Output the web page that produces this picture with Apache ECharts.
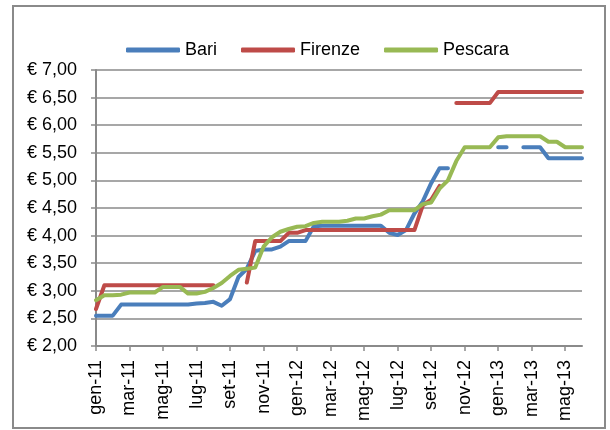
<!DOCTYPE html>
<html>
<head>
<meta charset="utf-8">
<script src="https://cdn.jsdelivr.net/npm/echarts@6/dist/echarts.min.js"></script>
<style>
  html, body { margin: 0; padding: 0; background: #fff; }
  #chart { width: 610px; height: 430px; }
</style>
</head>
<body>
<div id="chart"></div>
<script>
// mesi (un punto ogni mezzo mese, da gen-11 a inizio giu-13)
const months = [
  'gen-11', 'feb-11', 'mar-11', 'apr-11', 'mag-11', 'giu-11',
  'lug-11', 'ago-11', 'set-11', 'ott-11', 'nov-11', 'dic-11',
  'gen-12', 'feb-12', 'mar-12', 'apr-12', 'mag-12', 'giu-12',
  'lug-12', 'ago-12', 'set-12', 'ott-12', 'nov-12', 'dic-12',
  'gen-13', 'feb-13', 'mar-13', 'apr-13', 'mag-13', 'giu-13'
]
const categories = months.flatMap((m) => [m, m]).slice(0, 59)

const bari = [
  2.55, 2.55, 2.55, 2.75, 2.75, 2.75, 2.75, 2.75, 2.75, 2.75,
  2.75, 2.75, 2.77, 2.78, 2.80, 2.73, 2.85, 3.25, 3.40, 3.72,
  3.75, 3.75, 3.80, 3.90, 3.90, 3.90, 4.17, 4.18, 4.18, 4.18,
  4.18, 4.18, 4.18, 4.18, 4.18, 4.05, 4.01, 4.10, 4.40, 4.62,
  4.95, 5.22, 5.22, null, null, null, null, null, 5.60, 5.60,
  null, 5.60, 5.60, 5.60, 5.40, 5.40, 5.40, 5.40, 5.40
]
const firenze = [
  2.67, 3.10, 3.10, 3.10, 3.10, 3.10, 3.10, 3.10, 3.10, 3.10,
  3.10, 3.10, 3.10, 3.10, 3.10, null, null, null, 3.15, 3.90,
  3.90, 3.90, 3.90, 4.05, 4.05, 4.10, 4.10, 4.10, 4.10, 4.10,
  4.10, 4.10, 4.10, 4.10, 4.10, 4.10, 4.10, 4.10, 4.10, 4.55,
  4.65, 4.90, null, 6.40, 6.40, 6.40, 6.40, 6.40, 6.60, 6.60,
  6.60, 6.60, 6.60, 6.60, 6.60, 6.60, 6.60, 6.60, 6.60
]
const pescara = [
  2.83, 2.92, 2.92, 2.93, 2.97, 2.97, 2.97, 2.97, 3.07, 3.07,
  3.07, 2.95, 2.95, 2.98, 3.05, 3.14, 3.27, 3.38, 3.40, 3.42,
  3.80, 3.97, 4.07, 4.12, 4.16, 4.17, 4.23, 4.25, 4.25, 4.25,
  4.27, 4.31, 4.31, 4.35, 4.38, 4.46, 4.46, 4.46, 4.46, 4.57,
  4.60, 4.85, 5.00, 5.35, 5.60, 5.60, 5.60, 5.60, 5.78, 5.80,
  5.80, 5.80, 5.80, 5.80, 5.70, 5.70, 5.60, 5.60, 5.60
]

const chart = echarts.init(document.getElementById('chart'))
const font = '"Liberation Sans", Arial, sans-serif'
const gray = '#8a8a8a'

const makeLine = (name, data, color) => ({
  name,
  type: 'line',
  data,
  showSymbol: false,
  connectNulls: false,
  lineStyle: { color, width: 4, cap: 'round', join: 'round' },
  itemStyle: { color },
  emphasis: { disabled: true }
})

chart.setOption({
  animation: false,
  backgroundColor: '#fff',
  textStyle: { fontFamily: font },
  graphic: [
    {
      type: 'rect',
      shape: { x: 13, y: 6, width: 592, height: 422 },
      style: { fill: 'none', stroke: gray, lineWidth: 2 },
      silent: true
    }
  ],
  legend: {
    left: 121,
    top: 36,
    itemWidth: 54,
    itemHeight: 5,
    itemGap: 24,
    icon: 'roundRect',
    textStyle: { fontSize: 18, color: '#000', fontFamily: font },
    data: ['Bari', 'Firenze', 'Pescara']
  },
  grid: { left: 96, right: 28, top: 70, bottom: 84 },
  xAxis: {
    type: 'category',
    data: categories,
    boundaryGap: false,
    axisLine: { lineStyle: { color: gray, width: 2 } },
    axisTick: { interval: 3, length: 5, lineStyle: { color: gray, width: 1.5 } },
    axisLabel: {
      interval: 3,
      rotate: 90,
      margin: 14,
      fontSize: 18,
      color: '#000',
      fontFamily: font
    },
    splitLine: { show: false }
  },
  yAxis: {
    type: 'value',
    min: 2,
    max: 7,
    interval: 0.5,
    axisLine: { show: true, lineStyle: { color: gray, width: 2 } },
    axisTick: { show: true, length: 5, lineStyle: { color: gray, width: 1.5 } },
    axisLabel: {
      margin: 19,
      fontSize: 18,
      color: '#000',
      fontFamily: font,
      formatter: (v) => '€ ' + v.toFixed(2).replace('.', ',')
    },
    splitLine: { lineStyle: { color: gray, width: 1.5 } }
  },
  series: [
    makeLine('Bari', bari, '#4A7EBB'),
    makeLine('Firenze', firenze, '#BE4B48'),
    makeLine('Pescara', pescara, '#98B954')
  ]
})
</script>
</body>
</html>
